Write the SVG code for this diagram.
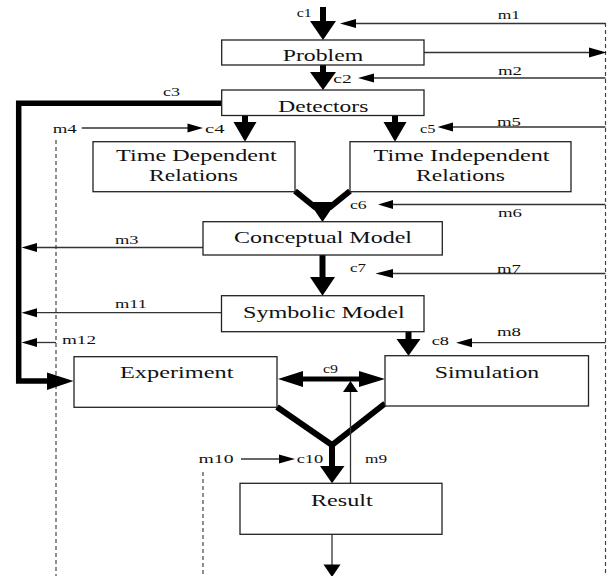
<svg xmlns="http://www.w3.org/2000/svg" width="607" height="576" viewBox="0 0 607 576">
<style>
.box{fill:#fff;stroke:#222;stroke-width:1.3}
.bt{font-family:"Liberation Serif","DejaVu Serif",serif;font-size:16.5px;fill:#111;text-anchor:middle}
.lb{font-family:"Liberation Serif","DejaVu Serif",serif;font-size:12px;fill:#111}
.thin{stroke:#333;stroke-width:1.3;fill:none}
.thick{stroke:#000;stroke-width:6;fill:none}
.dash{stroke:#444;stroke-width:1.2;stroke-dasharray:4 3;fill:none}
.ah{fill:#000}
</style>
<rect width="607" height="576" fill="#fff"/>
<g id="connectors">
<line class="dash" x1="605.5" y1="23" x2="605.5" y2="576"/>
<line class="dash" x1="56" y1="140" x2="56" y2="576"/>
<line class="dash" x1="203" y1="472" x2="203" y2="576"/>
<!-- c1 -->
<line class="thick" x1="323" y1="7" x2="323" y2="23"/>
<polygon class="ah" points="310,21 336,21 323,40"/>
<!-- c2 -->
<line class="thick" x1="323" y1="65" x2="323" y2="74"/>
<polygon class="ah" points="310,72 336,72 323,90"/>
<!-- c4 -->
<line class="thick" x1="245" y1="115.5" x2="245" y2="124"/>
<polygon class="ah" points="233.5,122 256.5,122 245,141.7"/>
<!-- c5 -->
<line class="thick" x1="395" y1="115.5" x2="395" y2="124"/>
<polygon class="ah" points="383.5,122 406.5,122 395,141.7"/>
<!-- c3 thick path -->
<polyline class="thick" style="stroke-width:5.5" points="221.7,103.3 18.7,103.3 18.7,381 50,381"/>
<polygon class="ah" points="47,372.5 47,390 73.5,381"/>
<!-- c6 merge -->
<polyline class="thick" points="295,191 316,208"/>
<polyline class="thick" points="350,191 329,208"/>
<polygon class="ah" points="309,202 336,202 322.5,222"/>
<!-- c7 -->
<line class="thick" x1="322.5" y1="255" x2="322.5" y2="279"/>
<polygon class="ah" points="310,277 335,277 322.5,295.7"/>
<!-- c8 -->
<line class="thick" x1="408.5" y1="331.7" x2="408.5" y2="341"/>
<polygon class="ah" points="396.5,339 420.5,339 408.5,355.7"/>
<!-- c9 -->
<line class="thick" style="stroke-width:5" x1="300" y1="379" x2="362" y2="379"/>
<polygon class="ah" points="278,379 303,371 303,387"/>
<polygon class="ah" points="385,379 359,371 359,387"/>
<!-- c10 merge -->
<polyline class="thick" points="277,407 332,445 385,403.5"/>
<line class="thick" x1="332" y1="444" x2="332" y2="468"/>
<polygon class="ah" points="320,466 344.5,466 332,483.3"/>
<!-- Problem -> right -->
<line class="thin" x1="424" y1="52.5" x2="592" y2="52.5"/>
<polygon class="ah" points="606.5,52.5 589,47.5 589,57.5"/>
<!-- m1 -->
<line class="thin" x1="605.5" y1="23.5" x2="354" y2="23.5"/>
<polygon class="ah" points="340,23.5 356,19 356,28"/>
<!-- m2 -->
<line class="thin" x1="605.5" y1="78" x2="372" y2="78"/>
<polygon class="ah" points="358,78 374,73.5 374,82.5"/>
<!-- m4 -->
<line class="thin" x1="81.7" y1="128" x2="190" y2="128"/>
<polygon class="ah" points="203,128 187.5,123.5 187.5,132.5"/>
<!-- m5 -->
<line class="thin" x1="605.5" y1="127" x2="450" y2="127"/>
<polygon class="ah" points="437.5,127 453,122.5 453,131.5"/>
<!-- m6 -->
<line class="thin" x1="605.5" y1="204.5" x2="390" y2="204.5"/>
<polygon class="ah" points="378,204.5 393,200 393,209"/>
<!-- m3 -->
<line class="thin" x1="203" y1="247.5" x2="34" y2="247.5"/>
<polygon class="ah" points="21.5,247.5 37,243 37,252"/>
<!-- m7 -->
<line class="thin" x1="605.5" y1="273.5" x2="390" y2="273.5"/>
<polygon class="ah" points="375.5,273.5 393,269 393,278"/>
<!-- m11 -->
<line class="thin" x1="221.5" y1="312.7" x2="34" y2="312.7"/>
<polygon class="ah" points="21.5,312.7 37,308.2 37,317.2"/>
<!-- m12 -->
<line class="thin" x1="56" y1="342.5" x2="34" y2="342.5"/>
<polygon class="ah" points="21.5,342.5 37,338 37,347"/>
<!-- m8 -->
<line class="thin" x1="605.5" y1="342.7" x2="469" y2="342.7"/>
<polygon class="ah" points="456,342.7 472,338.2 472,347.2"/>
<!-- m10 -->
<line class="thin" x1="241" y1="459" x2="282" y2="459"/>
<polygon class="ah" points="295,459 279,454.5 279,463.5"/>
<!-- m9 -->
<line class="thin" x1="350.5" y1="483.3" x2="350.5" y2="389"/>
<polygon class="ah" points="350.5,381 343,392 358,392"/>
<!-- bottom output -->
<line class="thin" x1="332" y1="534.3" x2="332" y2="566"/>
<polygon class="ah" points="332,577 323.5,564.5 340.5,564.5"/>
</g>
<g id="labels">
<text class="lb" x="296.7" y="17" textLength="15" lengthAdjust="spacingAndGlyphs">c1</text>
<text class="lb" x="497.7" y="19" textLength="22.3" lengthAdjust="spacingAndGlyphs">m1</text>
<text class="lb" x="498" y="75" textLength="24" lengthAdjust="spacingAndGlyphs">m2</text>
<text class="lb" x="333.3" y="83" textLength="18.4" lengthAdjust="spacingAndGlyphs">c2</text>
<text class="lb" x="163" y="96" textLength="17" lengthAdjust="spacingAndGlyphs">c3</text>
<text class="lb" x="52.7" y="133" textLength="24" lengthAdjust="spacingAndGlyphs">m4</text>
<text class="lb" x="205" y="133" textLength="19.5" lengthAdjust="spacingAndGlyphs">c4</text>
<text class="lb" x="420" y="133" textLength="15.5" lengthAdjust="spacingAndGlyphs">c5</text>
<text class="lb" x="497" y="126" textLength="24" lengthAdjust="spacingAndGlyphs">m5</text>
<text class="lb" x="350" y="209" textLength="16.7" lengthAdjust="spacingAndGlyphs">c6</text>
<text class="lb" x="498" y="217" textLength="24" lengthAdjust="spacingAndGlyphs">m6</text>
<text class="lb" x="115" y="244" textLength="23.6" lengthAdjust="spacingAndGlyphs">m3</text>
<text class="lb" x="350" y="272" textLength="16" lengthAdjust="spacingAndGlyphs">c7</text>
<text class="lb" x="497" y="273" textLength="24" lengthAdjust="spacingAndGlyphs">m7</text>
<text class="lb" x="115" y="308" textLength="32" lengthAdjust="spacingAndGlyphs">m11</text>
<text class="lb" x="62" y="344" textLength="34" lengthAdjust="spacingAndGlyphs">m12</text>
<text class="lb" x="431.7" y="345" textLength="17.3" lengthAdjust="spacingAndGlyphs">c8</text>
<text class="lb" x="497" y="336" textLength="24" lengthAdjust="spacingAndGlyphs">m8</text>
<text class="lb" x="323" y="373" textLength="15" lengthAdjust="spacingAndGlyphs">c9</text>
<text class="lb" x="198.5" y="463" textLength="35" lengthAdjust="spacingAndGlyphs">m10</text>
<text class="lb" x="296.7" y="463" textLength="26.6" lengthAdjust="spacingAndGlyphs">c10</text>
<text class="lb" x="365" y="463" textLength="22" lengthAdjust="spacingAndGlyphs">m9</text>
</g>
<g id="problem">
<rect class="box" x="221.7" y="40" width="202.3" height="25"/>
<text class="bt" x="323" y="60.5" textLength="80.6" lengthAdjust="spacingAndGlyphs">Problem</text>
</g>
<g id="detectors">
<rect class="box" x="221.7" y="90" width="202.3" height="25.5"/>
<text class="bt" x="323.3" y="111.5" textLength="90" lengthAdjust="spacingAndGlyphs">Detectors</text>
</g>
<g id="time-dependent">
<rect class="box" x="93" y="141.7" width="202" height="50"/>
<text class="bt" x="196.4" y="161" textLength="160.7" lengthAdjust="spacingAndGlyphs">Time Dependent</text>
<text class="bt" x="193.5" y="181" textLength="89" lengthAdjust="spacingAndGlyphs">Relations</text>
</g>
<g id="time-independent">
<rect class="box" x="350" y="141.7" width="221" height="50"/>
<text class="bt" x="461.6" y="161" textLength="176" lengthAdjust="spacingAndGlyphs">Time Independent</text>
<text class="bt" x="460.5" y="181" textLength="89" lengthAdjust="spacingAndGlyphs">Relations</text>
</g>
<g id="conceptual-model">
<rect class="box" x="203" y="221.7" width="239.3" height="33.3"/>
<text class="bt" x="323" y="242.5" textLength="178" lengthAdjust="spacingAndGlyphs">Conceptual Model</text>
</g>
<g id="symbolic-model">
<rect class="box" x="221.5" y="295.7" width="202.5" height="36"/>
<text class="bt" x="323.8" y="318" textLength="161.6" lengthAdjust="spacingAndGlyphs">Symbolic Model</text>
</g>
<g id="experiment">
<rect class="box" x="74" y="356.7" width="203" height="50.6"/>
<text class="bt" x="176.7" y="378" textLength="113.4" lengthAdjust="spacingAndGlyphs">Experiment</text>
</g>
<g id="simulation">
<rect class="box" x="385" y="355.7" width="203.5" height="50.3"/>
<text class="bt" x="487" y="377.5" textLength="104.5" lengthAdjust="spacingAndGlyphs">Simulation</text>
</g>
<g id="result">
<rect class="box" x="240" y="483.3" width="202" height="51"/>
<text class="bt" x="341.8" y="506" textLength="61.7" lengthAdjust="spacingAndGlyphs">Result</text>
</g>
</svg>
